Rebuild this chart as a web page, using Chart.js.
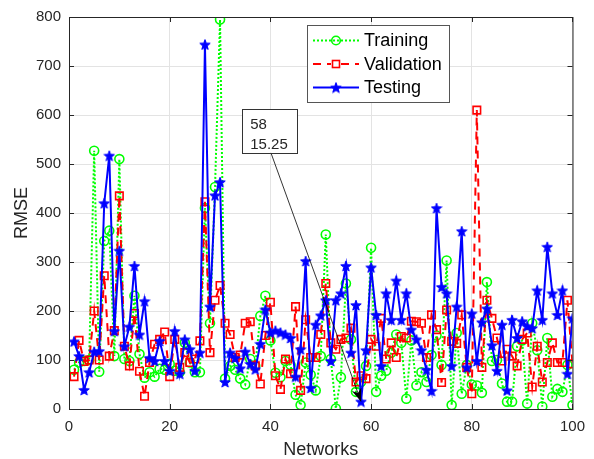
<!DOCTYPE html>
<html>
<head>
<meta charset="utf-8">
<script src="https://cdn.jsdelivr.net/npm/chart.js@4.4.1/dist/chart.umd.min.js"></script>
<style>
html,body{margin:0;padding:0;background:#fff}
#wrap{width:594px;height:459px}
</style>
</head>
<body>
<div id="wrap"><canvas id="rmseChart" width="594" height="459"></canvas></div>
<script>
// data
const networks = Array.from({length:100},(_,i)=>i+1)

const training = [80,95,98,100,527,76,343,364,108,510,
102,98,231,112,64,75,66,82,80,92,
78,75,135,95,75,75,410,175,453,795,
62,88,80,62,50,102,88,190,231,140,
74,65,98,90,29,8,95,70,38,108,
356,102,1,65,256,142,35,55,88,329,
35,68,78,115,152,135,21,140,48,75,
55,110,150,90,303,8,155,31,90,50,
48,33,259,98,100,52,15,15,128,140,
11,175,120,5,145,25,41,35,90,8]

const validation = [66,140,97,100,200,100,272,108,160,435,
128,88,195,77,26,95,132,142,157,66,
142,85,115,95,102,139,423,115,222,252,
175,152,105,110,175,178,88,51,150,218,
68,40,102,72,209,38,182,105,105,152,
256,135,122,142,145,165,55,68,62,142,
128,185,102,135,105,148,145,179,178,175,
105,192,162,54,202,138,134,192,85,31,
610,85,222,185,145,98,122,108,88,142,
155,45,128,55,95,135,95,95,222,92]

const testing = [138,108,39,75,117,118,420,517,159,323,
128,168,292,152,220,104,98,139,98,78,
159,72,142,122,78,115,744,209,436,463,
55,115,104,83,117,92,81,133,203,156,
160,156,152,145,66,122,302,43,172,191,
222,98,222,236,292,115,212,15.25,120,289,
192,88,236,182,262,182,236,162,142,120,
80,37,410,249,236,88,209,363,85,195,
98,177,205,130,78,172,38,182,145,179,
169,165,242,182,331,236,192,242,72,185]

const xTicks = [0,20,40,60,80,100]
const yTicks = [0,100,200,300,400,500,600,700,800]

// datatip (in data units)
const tipNetwork = 58
const tipValue = 15.25
const tipBox = {x1:34.4, x2:45.3, y1:612, y2:523}
const tipFrom = {x:40.1, y:523}

const GREEN = "#00ff00", RED = "#ff0000", BLUE = "#0000ff"
const AX = "#262626"
const FONT = "'Liberation Sans', Arial, Helvetica, sans-serif"

function pentagram(size, color){
  const c = document.createElement("canvas")
  c.width = c.height = size
  const g = c.getContext("2d")
  const r = size/2 - 0.5, ri = r*0.42, cx = size/2, cy = size/2 + 0.6
  g.beginPath()
  for(let i=0;i<10;i++){
    const a = -Math.PI/2 + i*Math.PI/5
    const rr = i%2 ? ri : r
    g.lineTo(cx + rr*Math.cos(a), cy + rr*Math.sin(a))
  }
  g.closePath()
  g.fillStyle = color
  g.fill()
  g.strokeStyle = color
  g.lineWidth = 1
  g.stroke()
  return c
}
const starImg = pentagram(12, BLUE)

function pts(arr){ return arr.map((v,i)=>({x:networks[i], y:v})) }

const frame = {
  id:"frame",
  afterDraw(chart){
    const {ctx, chartArea:a, scales:{x, y}} = chart
    ctx.save()
    ctx.strokeStyle = AX
    ctx.lineWidth = 1
    ctx.strokeRect(a.left+0.5, a.top+0.5, a.right-a.left, a.bottom-a.top)
    ctx.beginPath()
    xTicks.forEach(t=>{
      const px = Math.round(x.getPixelForValue(t))+0.5
      ctx.moveTo(px, a.bottom); ctx.lineTo(px, a.bottom-5)
      ctx.moveTo(px, a.top); ctx.lineTo(px, a.top+5)
    })
    yTicks.forEach(t=>{
      const py = Math.round(y.getPixelForValue(t))+0.5
      ctx.moveTo(a.left, py); ctx.lineTo(a.left+5, py)
      ctx.moveTo(a.right, py); ctx.lineTo(a.right-5, py)
    })
    ctx.stroke()

    // datatip arrow + box
    const bx1 = x.getPixelForValue(tipBox.x1), bx2 = x.getPixelForValue(tipBox.x2)
    const by1 = y.getPixelForValue(tipBox.y1), by2 = y.getPixelForValue(tipBox.y2)
    const sx = x.getPixelForValue(tipFrom.x), sy = y.getPixelForValue(tipFrom.y)
    const ex = x.getPixelForValue(tipNetwork), ey = y.getPixelForValue(tipValue)
    const ang = Math.atan2(ey-sy, ex-sx)
    ctx.strokeStyle = "#000"
    ctx.lineWidth = 0.8
    ctx.beginPath(); ctx.moveTo(sx, sy); ctx.lineTo(ex, ey); ctx.stroke()
    ctx.fillStyle = "#000"
    ctx.beginPath()
    ctx.moveTo(ex, ey)
    ctx.lineTo(ex - 13*Math.cos(ang) + 5*Math.sin(ang), ey - 13*Math.sin(ang) - 5*Math.cos(ang))
    ctx.lineTo(ex - 9*Math.cos(ang), ey - 9*Math.sin(ang))
    ctx.lineTo(ex - 13*Math.cos(ang) - 5*Math.sin(ang), ey - 13*Math.sin(ang) + 5*Math.cos(ang))
    ctx.closePath(); ctx.fill()
    ctx.fillStyle = "#fff"
    ctx.fillRect(bx1, by1, bx2-bx1, by2-by1)
    ctx.strokeStyle = "#333"
    ctx.lineWidth = 1
    ctx.strokeRect(Math.round(bx1)+0.5, Math.round(by1)+0.5, Math.round(bx2-bx1), Math.round(by2-by1))
    ctx.fillStyle = AX
    ctx.font = "15px " + FONT
    ctx.textBaseline = "middle"
    ctx.textAlign = "left"
    ctx.fillText(String(tipNetwork), bx1+8, by1+16)
    ctx.fillText(tipValue.toFixed(2), bx1+8, by1+36)

    // legend
    const lx = a.left + 238, ly = a.top + 8, lw = 142, lh = 77
    ctx.fillStyle = "#fff"
    ctx.fillRect(lx, ly, lw, lh)
    ctx.strokeStyle = "#555"
    ctx.strokeRect(lx+0.5, ly+0.5, lw, lh)
    const items = [
      {label:"Training", color:GREEN, dash:[2,2], marker:"circle"},
      {label:"Validation", color:RED, dash:[8,6], marker:"rect"},
      {label:"Testing", color:BLUE, dash:[], marker:"star"}
    ]
    items.forEach((it,i)=>{
      const ry = ly + 15.5 + i*23.5
      ctx.strokeStyle = it.color
      ctx.lineWidth = 2
      ctx.setLineDash(it.dash)
      ctx.beginPath(); ctx.moveTo(lx+6, ry); ctx.lineTo(lx+52, ry); ctx.stroke()
      ctx.setLineDash([])
      const mx = lx + 29
      if(it.marker==="circle"){
        ctx.lineWidth = 1.6
        ctx.beginPath(); ctx.arc(mx, ry, 4.3, 0, Math.PI*2); ctx.stroke()
      } else if(it.marker==="rect"){
        ctx.lineWidth = 1.6
        ctx.fillStyle = "#fff"
        ctx.fillRect(mx-5, ry-4, 10, 8)
        ctx.strokeRect(mx-3.5, ry-3.5, 7, 7)
      } else {
        ctx.drawImage(starImg, mx-6, ry-6)
      }
      ctx.fillStyle = "#000"
      ctx.font = "18px " + FONT
      ctx.textBaseline = "middle"
      ctx.fillText(it.label, lx+57, ry+1)
    })
    ctx.restore()
  }
}

new Chart(document.getElementById("rmseChart"),{
  type:"line",
  data:{
    datasets:[
      {label:"Training", data:pts(training), order:2,
       borderColor:GREEN, borderWidth:2, borderDash:[2,2],
       pointStyle:"circle", pointRadius:4.5, pointBorderWidth:1.6,
       pointBorderColor:GREEN, pointBackgroundColor:"rgba(0,0,0,0)"},
      {label:"Validation", data:pts(validation), order:1,
       borderColor:RED, borderWidth:2, borderDash:[8,6],
       pointStyle:"rect", pointRadius:5.3, pointBorderWidth:1.6,
       pointBorderColor:RED, pointBackgroundColor:"rgba(0,0,0,0)"},
      {label:"Testing", data:pts(testing), order:0,
       borderColor:BLUE, borderWidth:2,
       pointStyle:starImg, pointRadius:6,
       pointBorderColor:BLUE, pointBackgroundColor:BLUE}
    ]
  },
  options:{
    responsive:false,
    animation:false,
    events:[],
    layout:{padding:{top:11, right:20, left:0, bottom:0}},
    elements:{line:{tension:0, fill:false}},
    plugins:{legend:{display:false}, tooltip:{enabled:false}},
    scales:{
      x:{
        type:"linear", min:0, max:100,
        afterBuildTicks(s){ s.ticks = xTicks.map(v=>({value:v})) },
        afterFit(s){ s.height = 50 },
        grid:{color:"#e3e3e3", drawTicks:false},
        border:{display:false},
        ticks:{color:AX, padding:9, maxRotation:0, font:{family:FONT, size:15}},
        title:{display:true, text:"Networks", color:AX, padding:{top:0,bottom:0},
               font:{family:FONT, size:18, lineHeight:1}}
      },
      y:{
        min:0, max:800,
        afterBuildTicks(s){ s.ticks = yTicks.map(v=>({value:v})) },
        afterFit(s){ s.width = 69 },
        grid:{color:"#e3e3e3", drawTicks:false},
        border:{display:false},
        ticks:{color:AX, padding:8, font:{family:FONT, size:15}},
        title:{display:true, text:"RMSE", color:AX, padding:{top:13,bottom:0},
               font:{family:FONT, size:18, lineHeight:1}}
      }
    }
  },
  plugins:[frame]
})
</script>
</body>
</html>
